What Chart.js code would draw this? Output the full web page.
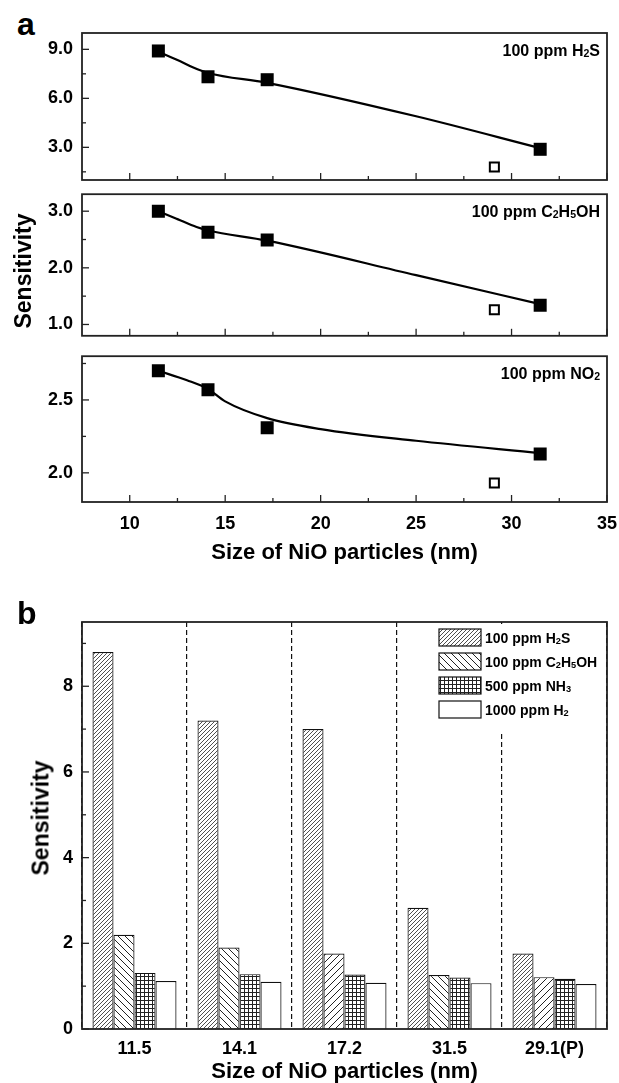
<!DOCTYPE html>
<html>
<head>
<meta charset="utf-8">
<script src="https://cdn.jsdelivr.net/npm/chart.js@4.4.1/dist/chart.umd.min.js"></script>
<style>
  body { margin: 0; background: #fff; }
  #wrap { position: relative; width: 619px; height: 1083px; overflow: hidden;
          font-family: "Liberation Sans", Arial, sans-serif; font-weight: bold; color: #000; }
  canvas { position: absolute; left: 0; }
  .lab { position: absolute; line-height: normal; }
  .ytitle { position: absolute; white-space: nowrap; font-size: 23px; line-height: 1;
            transform: translate(-50%, -50%) rotate(-90deg); }
</style>
</head>
<body>
<div id="wrap">
  <div class="lab" style="left:17px;top:6px;font-size:32px;">a</div>
  <canvas id="cH2S" width="619" height="200" style="top:0"></canvas>
  <canvas id="cEth" width="619" height="160" style="top:185px"></canvas>
  <canvas id="cNO2" width="619" height="230" style="top:347px"></canvas>
  <div class="ytitle" style="left:23px;top:271px;">Sensitivity</div>
  <div class="lab" style="left:17px;top:595px;font-size:32px;">b</div>
  <canvas id="cBar" width="619" height="503" style="top:580px"></canvas>
  <div class="ytitle" style="left:41px;top:818px;">Sensitivity</div>
</div>
<script>
// ---- panel a data ----
const sizes = [11.5, 14.1, 17.2, 31.5];
const porousSize = [29.1];

const h2sSens = [8.9, 7.32, 7.14, 2.88];
const h2sPorous = [1.8];
const h2sFitX = [11.5, 12.5, 13.3, 14.1, 17.2, 25, 31.5];
const h2sFitY = [8.85, 8.35, 7.9, 7.55, 6.95, 4.9, 2.95];

const ethSens = [3.0, 2.63, 2.49, 1.34];
const ethPorous = [1.26];
const ethFitX = [11.5, 12.5, 13.5, 14.1, 17.2, 25, 31.5];
const ethFitY = [3.0, 2.86, 2.72, 2.66, 2.48, 1.87, 1.36];

const no2Sens = [2.70, 2.57, 2.31, 2.13];
const no2Porous = [1.93];
const no2FitX = [11.5, 13, 14.1, 15, 17.2, 20, 25, 31.5];
const no2FitY = [2.70, 2.635, 2.575, 2.49, 2.375, 2.30, 2.22, 2.135];

const gasLabelsA = ['100 ppm H2S', '100 ppm C2H5OH', '100 ppm NO2'];

const sizeTicks = [10, 15, 20, 25, 30, 35];
const sizeMinor = [12.5, 17.5, 22.5, 27.5, 32.5];
const h2sTicks = [3, 6, 9];
const h2sMinor = [1.5, 4.5, 7.5];
const ethTicks = [1, 2, 3];
const ethMinor = [1.5, 2.5];
const no2Ticks = [2.0, 2.5];
const no2Minor = [2.25, 2.75];

// ---- panel b data ----
const barCats = ['11.5', '14.1', '17.2', '31.5', '29.1(P)'];
const barH2S = [8.8, 7.2, 7.0, 2.83, 1.76];
const barEth = [2.2, 1.9, 1.76, 1.26, 1.21];
const barNH3 = [1.31, 1.28, 1.27, 1.2, 1.17];
const barH2 = [1.12, 1.1, 1.08, 1.07, 1.05];
const barGases = ['100 ppm H2S', '100 ppm C2H5OH', '500 ppm NH3', '1000 ppm H2'];
const barTicks = [0, 2, 4, 6, 8];
const barMinor = [1, 3, 5, 7, 9];

const FONT = '"Liberation Sans", Arial, sans-serif';
Chart.defaults.font.family = FONT;
Chart.defaults.font.weight = 'bold';
Chart.defaults.color = '#000';

// text with chemical subscripts (a digit right after a letter goes low and small)
function drawChem(ctx, text, x, y, size, align) {
  const segs = [];
  for (let i = 0; i < text.length; i++) {
    const sub = /\d/.test(text[i]) && i > 0 && /[A-Za-z]/.test(text[i - 1]);
    const last = segs[segs.length - 1];
    if (last && last.sub === sub) last.t += text[i];
    else segs.push({ t: text[i], sub });
  }
  const fontOf = s => 'bold ' + (s.sub ? size * 0.66 : size) + 'px ' + FONT;
  let w = 0;
  segs.forEach(s => { ctx.font = fontOf(s); s.w = ctx.measureText(s.t).width; w += s.w; });
  let cx = align === 'right' ? x - w : x;
  const base = y + size * 0.36;
  ctx.fillStyle = '#000';
  ctx.textAlign = 'left';
  ctx.textBaseline = 'alphabetic';
  segs.forEach(s => {
    ctx.font = fontOf(s);
    ctx.fillText(s.t, cx, s.sub ? base + size * 0.08 : base);
    cx += s.w;
  });
}

// box frame + inward ticks + corner label
const frameTicks = {
  id: 'frameTicks',
  afterDraw(chart, args, o) {
    const { ctx, chartArea: a, scales } = chart;
    ctx.save();
    ctx.setLineDash([]);
    ctx.strokeStyle = '#222';
    const line = (x1, y1, x2, y2) => { ctx.beginPath(); ctx.moveTo(x1, y1); ctx.lineTo(x2, y2); ctx.stroke(); };
    ctx.lineWidth = 1.3;
    (o.x || []).forEach(v => { const x = scales.x.getPixelForValue(v); line(x, a.bottom, x, a.bottom - 7); });
    (o.xMinor || []).forEach(v => { const x = scales.x.getPixelForValue(v); line(x, a.bottom, x, a.bottom - 4); });
    (o.y || []).forEach(v => { const y = scales.y.getPixelForValue(v); line(a.left, y, a.left + 7, y); });
    (o.yMinor || []).forEach(v => { const y = scales.y.getPixelForValue(v); line(a.left, y, a.left + 4, y); });
    ctx.lineWidth = 1.8;
    ctx.strokeRect(a.left, a.top, a.right - a.left, a.bottom - a.top);
    if (o.label) drawChem(ctx, o.label, a.right - 7, a.top + 17, 16, 'right');
    ctx.restore();
  }
};

function setTicks(list) {
  return scale => { scale.ticks = list.map(v => ({ value: v })); };
}
function fixY(scale) {
  scale.width = 82;
  scale.paddingTop = 0;
  scale.paddingBottom = 0;
}
function fixX(h) {
  return scale => { scale.height = h; scale.paddingLeft = 0; scale.paddingRight = 0; };
}

function sensChart(id, fitX, fitY, sens, porous, yMin, yMax, yTicks, yMinor, label, opts) {
  const pts = sizes.map((x, i) => ({ x, y: sens[i] }));
  const open = porousSize.map((x, i) => ({ x, y: porous[i] }));
  const fit = fitX.map((x, i) => ({ x, y: fitY[i] }));
  return new Chart(document.getElementById(id), {
    type: 'scatter',
    data: {
      datasets: [
        { data: pts, pointStyle: 'rect', pointRadius: 9.2, backgroundColor: '#000', borderWidth: 0 },
        { data: open, pointStyle: 'rect', pointRadius: 6.4, backgroundColor: '#fff', borderColor: '#000', borderWidth: 2 },
        { data: fit, showLine: true, pointRadius: 0, borderColor: '#000', borderWidth: 2.2, cubicInterpolationMode: 'monotone' }
      ]
    },
    options: {
      responsive: false,
      animation: false,
      events: [],
      layout: { padding: { top: opts.top, right: 12, left: 0, bottom: 0 } },
      plugins: {
        legend: { display: false },
        tooltip: { enabled: false },
        frameTicks: { x: sizeTicks, xMinor: sizeMinor, y: yTicks, yMinor: yMinor, label: label }
      },
      scales: {
        x: {
          min: 7.5, max: 35,
          afterBuildTicks: setTicks(sizeTicks),
          afterFit: fixX(opts.xh),
          grid: { display: false, drawTicks: false },
          border: { display: false },
          ticks: { display: !!opts.xLabels, padding: 11, font: { size: 18 } },
          title: {
            display: !!opts.xLabels, text: 'Size of NiO particles (nm)',
            font: { size: 22, lineHeight: 1.0 }, padding: { top: 0, bottom: 13 }
          }
        },
        y: {
          min: yMin, max: yMax,
          afterBuildTicks: setTicks(yTicks),
          afterFit: fixY,
          grid: { display: false, drawTicks: false },
          border: { display: false },
          ticks: { padding: 9, font: { size: 18 }, callback: v => v.toFixed(1) }
        }
      }
    },
    plugins: [frameTicks]
  });
}

sensChart('cH2S', h2sFitX, h2sFitY, h2sSens, h2sPorous, 1, 10, h2sTicks, h2sMinor, gasLabelsA[0], { top: 33, xh: 20 });
sensChart('cEth', ethFitX, ethFitY, ethSens, ethPorous, 0.8, 3.3, ethTicks, ethMinor, gasLabelsA[1], { top: 5, xh: 5 });
sensChart('cNO2', no2FitX, no2FitY, no2Sens, no2Porous, 1.8, 2.8, no2Ticks, no2Minor, gasLabelsA[2], { top: 5, xh: 75, xLabels: true });

// ---- hatch patterns ----
function makePattern(kind) {
  const n = kind === 'dense' || kind === 'grid' ? 4 : 7;
  const c = document.createElement('canvas');
  c.width = c.height = n;
  const g = c.getContext('2d');
  g.fillStyle = '#fff';
  g.fillRect(0, 0, n, n);
  g.strokeStyle = '#222';
  g.lineWidth = kind === 'dense' ? 0.8 : 1;
  g.beginPath();
  if (kind === 'grid') {
    g.moveTo(0, 0.5); g.lineTo(n, 0.5);
    g.moveTo(0.5, 0); g.lineTo(0.5, n);
  } else if (kind === 'back') {
    g.moveTo(0, 0); g.lineTo(n, n);
    g.moveTo(-1, n - 1); g.lineTo(1, n + 1);
    g.moveTo(n - 1, -1); g.lineTo(n + 1, 1);
  } else {
    g.moveTo(0, n); g.lineTo(n, 0);
    g.moveTo(-1, 1); g.lineTo(1, -1);
    g.moveTo(n - 1, n + 1); g.lineTo(n + 1, n - 1);
  }
  g.stroke();
  return g.createPattern(c, 'repeat');
}
const barCtx = document.getElementById('cBar').getContext('2d');
const patDense = makePattern('dense');
const patBack = makePattern('back');
const patFwd = makePattern('fwd');
const patGrid = makePattern('grid');
const ethFill = [patBack, patBack, patFwd, patBack, patFwd];
const legendFills = [patDense, patBack, patGrid, '#fff'];

const hatchLegend = {
  id: 'hatchLegend',
  afterDatasetsDraw(chart) {
    const { ctx, chartArea: a } = chart;
    ctx.save();
    ctx.fillStyle = '#fff';
    ctx.fillRect(a.right - 175, a.top + 2, 173, 108);
    barGases.forEach((name, i) => {
      const x = a.right - 168, y = a.top + 7 + i * 24;
      ctx.fillStyle = legendFills[i];
      ctx.fillRect(x, y, 42, 17);
      ctx.strokeStyle = '#111';
      ctx.lineWidth = 1.2;
      ctx.strokeRect(x, y, 42, 17);
      drawChem(ctx, name, x + 46, y + 8.5, 14, 'left');
    });
    ctx.restore();
  }
};

const barStyle = { borderColor: '#111', borderWidth: 1.2, categoryPercentage: 0.8, barPercentage: 1.0 };
new Chart(barCtx, {
  type: 'bar',
  data: {
    labels: barCats,
    datasets: [
      Object.assign({ label: barGases[0], data: barH2S, backgroundColor: patDense }, barStyle),
      Object.assign({ label: barGases[1], data: barEth, backgroundColor: ethFill }, barStyle),
      Object.assign({ label: barGases[2], data: barNH3, backgroundColor: patGrid }, barStyle),
      Object.assign({ label: barGases[3], data: barH2, backgroundColor: '#fff' }, barStyle)
    ]
  },
  options: {
    responsive: false,
    animation: false,
    events: [],
    layout: { padding: { top: 42, right: 12, left: 0, bottom: 0 } },
    plugins: {
      legend: { display: false },
      tooltip: { enabled: false },
      frameTicks: { y: barTicks, yMinor: barMinor }
    },
    scales: {
      x: {
        afterFit: fixX(54),
        grid: { display: true, drawOnChartArea: true, drawTicks: false, offset: true, color: '#111', lineWidth: 1.2 },
        border: { display: false, dash: [5, 3] },
        ticks: { padding: 9, font: { size: 18 } },
        title: { display: true, text: 'Size of NiO particles (nm)', font: { size: 22, lineHeight: 1.0 }, padding: { top: 0, bottom: 0 } }
      },
      y: {
        min: 0, max: 9.5,
        afterBuildTicks: setTicks(barTicks),
        afterFit: fixY,
        grid: { display: false, drawTicks: false },
        border: { display: false },
        ticks: { padding: 9, font: { size: 18 } }
      }
    }
  },
  plugins: [hatchLegend, frameTicks]
});
</script>
</body>
</html>
